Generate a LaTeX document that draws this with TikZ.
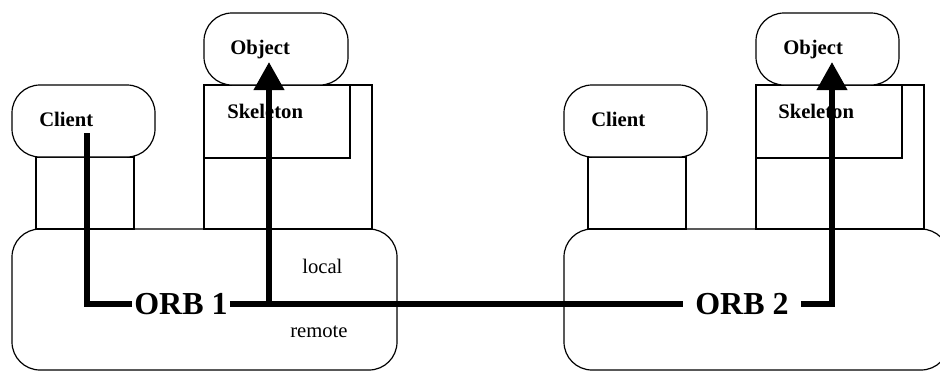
\documentclass[tikz,border=0pt]{standalone}
\usepackage{fontspec}
\setmainfont{Liberation Serif}
\usetikzlibrary{arrows.meta}

\begin{document}
\begin{tikzpicture}[x=0.75pt, y=-0.75pt,
  box/.style={draw=black, fill=white, line width=0.9pt},
  rbox/.style={box, rounded corners=21pt},
  lbl/.style={font=\fontsize{15.5}{18}\selectfont\bfseries, inner sep=0pt, anchor=base west},
  note/.style={font=\fontsize{15.5}{18}\selectfont, inner sep=0pt, anchor=base west},
  orb/.style={font=\fontsize{24}{28}\selectfont\bfseries, inner sep=1.5pt},
  wire/.style={line width=4.5pt},
  call/.style={wire, -{Triangle[length=21pt, width=22pt]}}]

\clip (0,0) rectangle (940,372);

%
% ORB 1 side
%

% ORB 1 box
\filldraw[rbox] (12,229) rectangle (397,370);

% Client with its stem
\filldraw[box] (36,157) rectangle (134,229);
\draw[line width=2pt] (36,229) -- (134,229);
\filldraw[rbox] (12,85) rectangle (155,157);

% Skeleton and Object
\filldraw[box] (204,85) rectangle (372,229);
\filldraw[box] (204,85) rectangle (350,158);
\filldraw[rbox] (204,13) rectangle (348,85);

\path
(39,126) node[lbl] (client1) {Client};
\path
(230,54) node[lbl] (object1) {Object};
\path
(227,118) node[lbl] (skel1) {Skeleton};
\path
(302,273) node[note] (local) {local};
\path
(290,337) node[note] (remote) {remote};
\path
(181,304) node[orb] (orb1) {ORB 1};

%
% ORB 2 side
%

% ORB 2 box
\filldraw[rbox] (564,229) rectangle (949,370);

% Client with its stem
\filldraw[box] (588,157) rectangle (686,229);
\draw[line width=2pt] (588,229) -- (686,229);
\filldraw[rbox] (564,85) rectangle (707,157);

% Skeleton and Object
\filldraw[box] (756,85) rectangle (924,229);
\filldraw[box] (756,85) rectangle (902,158);
\filldraw[rbox] (756,13) rectangle (899,85);

\path
(591,126) node[lbl] (client2) {Client};
\path
(783,54) node[lbl] (object2) {Object};
\path
(778,118) node[lbl] (skel2) {Skeleton};
\path
(742,304) node[orb, inner xsep=9pt] (orb2) {ORB 2};

%
% Call path
%
\coordinate (c1tap) at (87,133);
\coordinate (o1tip) at (269,62);
\coordinate (o2tip) at (832,62);

\draw[wire] (orb1.west) -| (c1tap);
\draw[wire] (orb1.east) -- (orb2.west);
\draw[call] (orb1.east -| o1tip) -- (o1tip);
\draw[call] (orb2.east) -| (o2tip);

\end{tikzpicture}
\end{document}
